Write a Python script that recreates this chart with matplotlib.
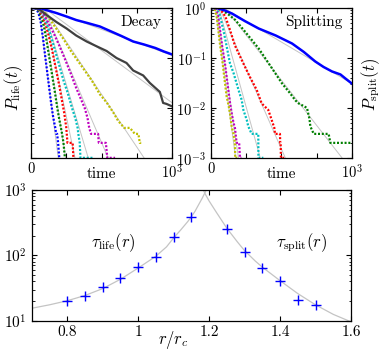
import numpy as np
import matplotlib
matplotlib.use('Agg')
import matplotlib.pyplot as plt

# colours of the dotted survival curves (fastest to slowest)
decay_colors = ['#0000ff', '#007f00', '#ff0000', '#00bfbf', '#bf00bf', '#bfbf00']
split_colors = ['#007f00', '#ff0000', '#00bfbf', '#bf00bf', '#bfbf00']

# Decay panel: dotted curves, time and log10 of P_life
decay_t = [
    [0, 25, 40, 55, 70, 85, 100, 120, 140, 155, 165, 172, 178, 185, 192, 200],
    [0, 30, 50, 70, 90, 110, 130, 150, 170, 185, 195, 205, 212, 220, 230, 240],
    [0, 35, 55, 75, 100, 125, 150, 175, 200, 222, 235, 245, 250, 258, 295, 300],
    [0, 40, 60, 85, 110, 140, 170, 200, 230, 260, 290, 315, 330, 335, 345, 350, 440],
    [0, 40, 65, 90, 120, 160, 200, 240, 280, 320, 350, 380, 400, 412, 425, 475, 480, 530, 540, 595],
    [0, 45, 70, 100, 140, 181, 230, 280, 330, 380, 430, 488, 535, 582, 617, 660, 700, 735, 760, 770, 780],
]
decay_logp = [
    [0, 0, -0.02, -0.12, -0.3, -0.6, -0.95, -1.4, -1.85, -2.15, -2.3, -2.4, -2.52, -2.52, -2.7, -3],
    [0, 0, -0.03, -0.15, -0.35, -0.65, -1.0, -1.35, -1.7, -1.98, -2.15, -2.3, -2.4, -2.52, -2.7, -3],
    [0, 0, -0.03, -0.12, -0.3, -0.55, -0.85, -1.2, -1.55, -1.9, -2.1, -2.3, -2.4, -2.7, -2.7, -3],
    [0, 0, -0.03, -0.12, -0.3, -0.55, -0.85, -1.15, -1.45, -1.7, -2.0, -2.22, -2.4, -2.52, -2.7, -3, -3],
    [0, 0, -0.03, -0.12, -0.28, -0.5, -0.75, -1.02, -1.3, -1.6, -1.8, -2.0, -2.2, -2.4, -2.52, -2.52, -2.7, -2.7, -3, -3],
    [0, 0, -0.03, -0.1, -0.25, -0.42, -0.62, -0.85, -1.05, -1.25, -1.45, -1.73, -1.89, -2.09, -2.26, -2.4, -2.4, -2.52, -2.52, -2.7, -2.7],
]
# the two slow decay curves (dark grey and solid blue)
decay_grey_t = [0, 30, 60, 111, 180, 252, 320, 394, 460, 535, 605, 676, 723, 794, 841, 912, 935, 959, 999]
decay_grey_logp = [0, 0, -0.03, -0.14, -0.28, -0.41, -0.55, -0.67, -0.76, -0.86, -1.0, -1.1, -1.25, -1.35, -1.5, -1.68, -1.9, -1.92, -1.97]
decay_blue_t = [0, 40, 75, 120, 180, 252, 320, 400, 488, 560, 640, 723, 800, 880, 940, 999]
decay_blue_logp = [0, 0, -0.01, -0.05, -0.1, -0.17, -0.24, -0.3, -0.37, -0.46, -0.56, -0.67, -0.73, -0.8, -0.87, -0.93]
# grey exponential fits: start at P=1, end at (t1, logp1)
decay_fit_t0 = [55, 79, 90, 88, 91, 91, 95, 90]
decay_fit_t1 = [193, 245, 311, 405, 546, 800, 1000, 1000]
decay_fit_logp1 = [-3, -3, -3, -3, -3, -3, -1.9, -0.95]

# Splitting panel
split_t = [
    [0, 40, 60, 78, 120, 173, 250, 339, 420, 505, 560, 600, 623, 650, 682, 690, 700, 706, 730, 836, 848, 1000],
    [0, 30, 50, 75, 102, 135, 170, 230, 280, 325, 360, 407, 431, 450, 455, 490, 492, 495, 497, 520],
    [0, 25, 40, 60, 88, 110, 135, 160, 182, 200, 218, 230, 254, 265, 289, 336, 337, 372],
    [0, 20, 35, 50, 64, 80, 99, 112, 123, 135, 147, 160, 170, 182, 200, 206, 216],
    [0, 15, 30, 42, 52, 65, 83, 97, 111, 125, 135, 147, 160, 170, 172, 187],
]
split_logp = [
    [0, 0, -0.01, -0.04, -0.12, -0.24, -0.5, -0.81, -1.15, -1.51, -1.7, -1.85, -1.91, -1.95, -2.0, -2.1, -2.22, -2.37, -2.52, -2.52, -2.7, -2.7],
    [0, 0, -0.01, -0.06, -0.17, -0.44, -0.75, -1.11, -1.4, -1.64, -1.91, -2.04, -2.24, -2.4, -2.52, -2.52, -2.7, -2.7, -3, -3],
    [0, 0, -0.02, -0.12, -0.44, -0.75, -1.11, -1.3, -1.51, -1.68, -1.84, -2.04, -2.24, -2.37, -2.52, -2.52, -3, -3],
    [0, 0, -0.03, -0.15, -0.44, -0.78, -1.11, -1.4, -1.64, -1.9, -2.11, -2.3, -2.4, -2.7, -2.7, -3, -3],
    [0, 0, -0.05, -0.2, -0.44, -0.75, -1.11, -1.45, -1.77, -1.95, -2.11, -2.37, -2.52, -2.7, -3, -3],
]
split_blue_t = [0, 40, 55, 100, 149, 240, 339, 460, 576, 660, 741, 800, 860, 920, 955, 1000]
split_blue_logp = [0, 0, -0.01, -0.05, -0.11, -0.26, -0.41, -0.55, -0.71, -0.88, -1.07, -1.18, -1.27, -1.33, -1.41, -1.51]
split_fit_t0 = [90, 100, 60, 55, 42, 30]
split_fit_t1 = [1000, 931, 528, 350, 195, 175]
split_fit_logp1 = [-1.51, -3, -3, -3, -3, -3]

# Bottom panel: characteristic times vs r/r_c
r_life = [0.8, 0.85, 0.9, 0.95, 1.0, 1.05, 1.1, 1.15]
tau_life = [20.2, 24.1, 32.5, 45.6, 65.7, 95.5, 189, 383]
r_split = [1.25, 1.3, 1.35, 1.4, 1.45, 1.5]
tau_split = [251, 114, 64.5, 40.5, 20.7, 17.2]
fit_life_r = [0.7, 0.75, 0.8, 0.85, 0.9, 0.95, 1.0, 1.05, 1.08, 1.1, 1.12, 1.14, 1.15, 1.16, 1.17, 1.18, 1.19, 1.2]
fit_life_tau = [15.5, 17.5, 20.2, 24.3, 31, 43, 64, 97, 135, 185, 245, 330, 390, 470, 590, 740, 950, 1250]
fit_split_r = [1.17, 1.18, 1.19, 1.2, 1.22, 1.25, 1.28, 1.3, 1.33, 1.35, 1.4, 1.45, 1.5, 1.55, 1.6]
fit_split_tau = [1400, 1100, 850, 680, 460, 260, 160, 118, 82, 66, 41, 26, 17.5, 12.5, 9.6]

FIT_GREY = '#c4c4c4'


def setup_time_axis(ax):
    ax.set_yscale('log')
    ax.set_xlim(0, 1000)
    ax.set_ylim(1e-3, 1)
    ax.set_xticks([0, 250, 500, 750, 1000])
    ax.set_xticklabels(['0', '', '', '', '$10^3$'])
    ax.set_yticks([1e-3, 1e-2, 1e-1, 1])
    ax.tick_params(labelsize=10.5)
    ax.set_xlabel('time', fontsize=11)
    ax.xaxis.set_label_coords(0.5, -0.06)


def main():
    plt.rcParams['font.family'] = 'serif'
    plt.rcParams['font.serif'] = ['cmr10']
    plt.rcParams['mathtext.fontset'] = 'cm'
    plt.rcParams['axes.formatter.use_mathtext'] = True
    plt.rcParams['font.size'] = 11
    plt.rcParams['axes.linewidth'] = 0.9
    for a in ['xtick', 'ytick']:
        plt.rcParams[a + '.direction'] = 'in'
        plt.rcParams[a + '.major.size'] = 3.5
        plt.rcParams[a + '.minor.size'] = 1.8
        plt.rcParams[a + '.major.width'] = 0.8
        plt.rcParams[a + '.minor.width'] = 0.6
        plt.rcParams[a + '.labelsize'] = 11
    plt.rcParams['xtick.top'] = True
    plt.rcParams['ytick.right'] = True

    fig = plt.figure(figsize=(3.84, 3.5), dpi=100)
    ax1 = fig.add_axes([0.0807, 0.549, 0.368, 0.428])
    ax2 = fig.add_axes([0.5495, 0.549, 0.3664, 0.428])
    ax3 = fig.add_axes([0.0826, 0.0837, 0.8315, 0.3734])

    # Decay panel
    for t0, t1, lp in zip(decay_fit_t0, decay_fit_t1, decay_fit_logp1):
        ax1.plot([t0, t1], [1, 10 ** lp], color=FIT_GREY, lw=0.7, zorder=1)
    for c, t, lp in zip(decay_colors, decay_t, decay_logp):
        ax1.plot(t, 10 ** np.array(lp), color=c, lw=1.6, ls=(0, (0.9, 0.8)), zorder=2)
    ax1.plot(decay_grey_t, 10 ** np.array(decay_grey_logp), color='#404040', lw=1.6, zorder=2)
    ax1.plot(decay_blue_t, 10 ** np.array(decay_blue_logp), color='#0000ff', lw=1.8, zorder=2)
    setup_time_axis(ax1)
    ax1.set_yticklabels([])
    ax1.set_ylabel('$P_{\\rm life}(t)$', fontsize=12)
    ax1.yaxis.set_label_coords(-0.04, 0.47)
    ax1.text(0.78, 0.91, 'Decay', transform=ax1.transAxes, ha='center', va='center', fontsize=11)

    # Splitting panel
    for t0, t1, lp in zip(split_fit_t0, split_fit_t1, split_fit_logp1):
        ax2.plot([t0, t1], [1, 10 ** lp], color=FIT_GREY, lw=0.7, zorder=1)
    for c, t, lp in zip(split_colors, split_t, split_logp):
        ax2.plot(t, 10 ** np.array(lp), color=c, lw=1.6, ls=(0, (0.9, 0.8)), zorder=2)
    ax2.plot(split_blue_t, 10 ** np.array(split_blue_logp), color='#0000ff', lw=1.8, zorder=2)
    setup_time_axis(ax2)
    ax2.set_yticklabels(['$10^{-3}$', '$10^{-2}$', '$10^{-1}$', '$10^0$'])
    ax2.yaxis.set_label_position('right')
    ax2.set_ylabel('$P_{\\rm split}(t)$', fontsize=12)
    ax2.yaxis.set_label_coords(1.055, 0.49)
    ax2.text(0.73, 0.91, 'Splitting', transform=ax2.transAxes, ha='center', va='center', fontsize=11)

    # tau(r) panel
    ax3.plot(fit_life_r, fit_life_tau, color=FIT_GREY, lw=0.9, zorder=1)
    ax3.plot(fit_split_r, fit_split_tau, color=FIT_GREY, lw=0.9, zorder=1)
    ax3.plot(r_life, tau_life, '+', color='#0000ff', ms=7, mew=1.0, zorder=2)
    ax3.plot(r_split, tau_split, '+', color='#0000ff', ms=7, mew=1.0, zorder=2)
    ax3.set_yscale('log')
    ax3.set_xlim(0.7, 1.6)
    ax3.set_ylim(10, 1000)
    ax3.set_xticks([0.8, 1.0, 1.2, 1.4, 1.6])
    ax3.set_xticklabels(['0.8', '1', '1.2', '1.4', '1.6'])
    ax3.set_yticks([10, 100, 1000])
    ax3.set_yticklabels(['$10^1$', '$10^2$', '$10^3$'])
    ax3.set_xlabel('$r/r_c$', fontsize=12)
    ax3.xaxis.set_label_coords(0.443, -0.065)
    ax3.text(0.93, 155, '$\\tau_{\\rm life}(r)$', ha='center', va='center', fontsize=12)
    ax3.text(1.46, 155, '$\\tau_{\\rm split}(r)$', ha='center', va='center', fontsize=12)

    fig.savefig('out.png', dpi=100)
    plt.close(fig)


if __name__ == '__main__':
    main()
